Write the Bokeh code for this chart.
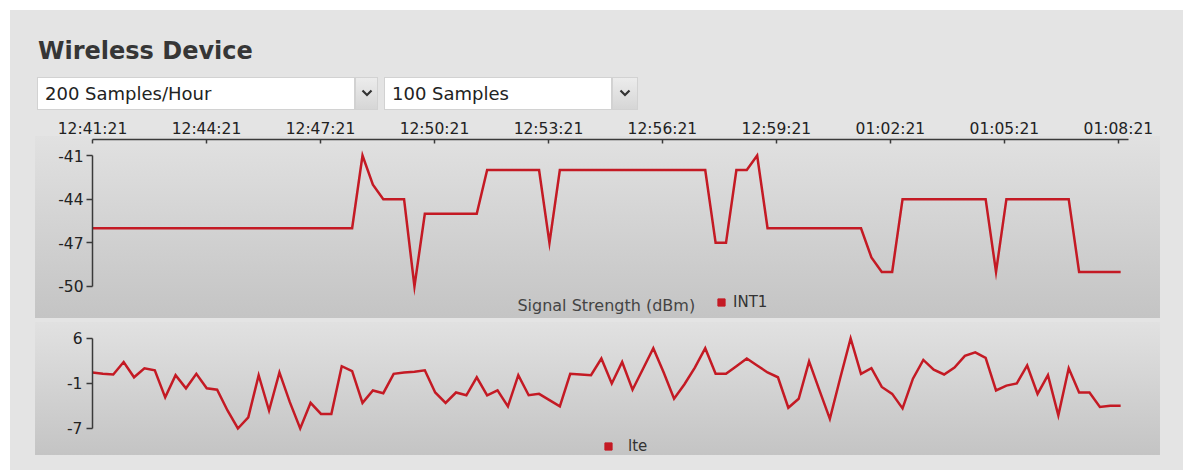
from bokeh.plotting import figure
from bokeh.models import FixedTicker, Range1d, Legend, LegendItem, Label, Div
from bokeh.layouts import column
from bokeh.embed import file_html
from bokeh.resources import INLINE

# ---------------- data ----------------
title_text = "Wireless Device"
rate_option = "200 Samples/Hour"
count_option = "100 Samples"

tick_seconds = [0, 180, 360, 540, 720, 900, 1080, 1260, 1440, 1620]
tick_labels = ["12:41:21", "12:44:21", "12:47:21", "12:50:21", "12:53:21",
               "12:56:21", "12:59:21", "01:02:21", "01:05:21", "01:08:21"]

sample_interval_s = 16.4

signal_dbm = [-46, -46, -46, -46, -46, -46, -46, -46, -46, -46,
              -46, -46, -46, -46, -46, -46, -46, -46, -46, -46,
              -46, -46, -46, -46, -46, -46, -41, -43, -44, -44,
              -44, -50, -45, -45, -45, -45, -45, -45, -42, -42,
              -42, -42, -42, -42, -47, -42, -42, -42, -42, -42,
              -42, -42, -42, -42, -42, -42, -42, -42, -42, -42,
              -47, -47, -42, -42, -41, -46, -46, -46, -46, -46,
              -46, -46, -46, -46, -46, -48, -49, -49, -44, -44,
              -44, -44, -44, -44, -44, -44, -44, -49, -44, -44,
              -44, -44, -44, -44, -44, -49, -49, -49, -49, -49]

lte = [1.1, 0.9, 0.8, 2.6, 0.4, 1.7, 1.4, -2.5, 0.7, -1.2,
       0.9, -1.2, -1.4, -4.4, -7.0, -5.4, 0.7, -4.4, 1.1, -3.2,
       -7.0, -3.3, -4.9, -4.9, 2.0, 1.3, -3.3, -1.5, -1.9, 0.9,
       1.1, 1.2, 1.4, -1.8, -3.3, -1.8, -2.2, 0.4, -2.2, -1.5,
       -3.8, 0.7, -2.2, -2.0, -2.9, -3.8, 0.9, 0.8, 0.7, 3.1,
       -0.5, 2.6, -1.4, 1.6, 4.6, 1.1, -2.7, -0.6, 1.8, 4.6,
       0.9, 0.9, 2.0, 3.1, 2.1, 1.1, 0.4, -4.0, -2.7, 2.7,
       -1.5, -5.6, 0.3, 6.0, 0.9, 1.7, -1.0, -2.0, -4.1, 0.2,
       2.9, 1.5, 0.8, 1.8, 3.5, 4.0, 3.2, -1.5, -0.8, -0.5,
       2.1, -2.0, 0.7, -5.1, 1.7, -1.8, -1.8, -3.9, -3.7, -3.7]

signal_ticks = [-50, -47, -44, -41]
lte_ticks = [-7, -0.5, 6]
lte_tick_labels = ["-7", "-1", "6"]

signal_axis_label = "Signal Strength (dBm)"
signal_series = "INT1"
lte_series = "lte"

sample_seconds = [i * sample_interval_s for i in range(len(signal_dbm))]

# ---------------- style ----------------
RED = "#c41a24"
FONT = "DejaVu Sans"
AXIS_COLOR = "#3a3a3a"
TEXT_COLOR = "#222222"
PANEL_BG = "linear-gradient(#e1e1e1, #c4c4c4)"
W = 1173


def style_common(p):
    p.grid.visible = False
    for ax in p.axis:
        ax.minor_tick_line_color = None
        ax.axis_line_color = AXIS_COLOR
        ax.axis_line_width = 1.5
        ax.major_tick_line_color = AXIS_COLOR
        ax.major_tick_line_width = 1.5
        ax.major_label_text_font = FONT
        ax.major_label_text_font_size = "15.5px"
        ax.major_label_text_color = TEXT_COLOR


def make_legend(label, renderer, loc, standoff):
    return Legend(items=[LegendItem(label=label, renderers=[renderer], index=0)],
                  location=loc, orientation="horizontal",
                  glyph_width=18, glyph_height=18, label_standoff=standoff,
                  padding=0, margin=0, spacing=0,
                  background_fill_alpha=0, border_line_alpha=0,
                  label_text_font=FONT, label_text_font_size="15px",
                  label_text_color="#333333")


# ---------------- top chart ----------------
p1 = figure(width=W, height=208,
            x_range=Range1d(0, 1636), y_range=Range1d(-52.2, -39.9),
            x_axis_location="above",
            toolbar_location=None, output_backend="svg",
            min_border_left=82, min_border_right=55,
            min_border_top=27, min_border_bottom=2,
            background_fill_color=None, border_fill_color=None,
            outline_line_color=None, margin=0)
p1.styles = {"background": PANEL_BG + " 25px 24px / 1125px 182px no-repeat"}

p1.line(sample_seconds, signal_dbm, line_color=RED, line_width=2.5,
        line_join="miter")
style_common(p1)

xa = p1.xaxis[0]
xa.ticker = FixedTicker(ticks=tick_seconds)
xa.major_label_overrides = dict(zip(tick_seconds, tick_labels))
xa.major_tick_in = 4
xa.major_tick_out = 0
xa.major_label_standoff = 2

ya = p1.yaxis[0]
ya.ticker = FixedTicker(ticks=signal_ticks)
ya.major_label_overrides = {t: str(t) for t in signal_ticks}
ya.bounds = (min(signal_ticks), max(signal_ticks))
ya.major_tick_in = 0
ya.major_tick_out = 6
ya.major_label_standoff = 3

key1 = p1.scatter(sample_seconds, signal_dbm, marker="square", size=7,
                  fill_color=RED, line_color=RED)
key1.visible = False
p1.add_layout(make_legend(signal_series, key1, (620, 7), 3))
p1.add_layout(Label(x=671, y=-51.3, text=signal_axis_label,
                    text_font=FONT, text_font_size="16px",
                    text_color="#444444", text_baseline="alphabetic"))

# ---------------- bottom chart ----------------
p2 = figure(width=W, height=150,
            x_range=Range1d(0, 1636), y_range=Range1d(-10.9, 8.31),
            x_axis_location=None,
            toolbar_location=None, output_backend="svg",
            min_border_left=82, min_border_right=55,
            min_border_top=2, min_border_bottom=15,
            background_fill_color=None, border_fill_color=None,
            outline_line_color=None, margin=0)
p2.styles = {"background": PANEL_BG + " 25px 2px / 1125px 133px no-repeat"}

p2.line(sample_seconds, lte, line_color=RED, line_width=2.5,
        line_join="miter")
style_common(p2)

ya2 = p2.yaxis[0]
ya2.ticker = FixedTicker(ticks=lte_ticks)
ya2.major_label_overrides = dict(zip(lte_ticks, lte_tick_labels))
ya2.bounds = (min(lte_ticks), max(lte_ticks))
ya2.major_tick_in = 0
ya2.major_tick_out = 6
ya2.major_label_standoff = 4

key2 = p2.scatter(sample_seconds, lte, marker="square", size=7,
                  fill_color=RED, line_color=RED)
key2.visible = False
p2.add_layout(make_legend(lte_series, key2, (507, 0), 11))

# ---------------- header ----------------
caret = ('<svg width="12" height="8" style="display:block;margin:11px auto 0 auto">'
         '<polyline points="1.5,1.5 6,6 10.5,1.5" fill="none" stroke="#333" '
         'stroke-width="2.2"/></svg>')
box_text = ("position:absolute;top:67px;height:33px;background:#ffffff;"
            "box-sizing:border-box;border:1px solid #d2d2d2;"
            "font-family:'DejaVu Sans';font-size:18px;line-height:31px;"
            "color:#222;padding-left:7px;white-space:nowrap;")
btn = ("position:absolute;top:67px;height:33px;box-sizing:border-box;"
       "border:1px solid #d2d2d2;background:linear-gradient(#ececec,#d6d6d6);")
header_html = f"""
<div style="position:relative;width:{W}px;height:102px;">
  <div style="position:absolute;left:28px;top:29px;font-family:'DejaVu Sans';
       font-weight:bold;font-size:24px;line-height:24px;color:#363636;
       white-space:nowrap;">{title_text}</div>
  <div style="{box_text}left:27px;width:318px;">{rate_option}</div>
  <div style="{btn}left:345px;width:23px;">{caret}</div>
  <div style="{box_text}left:374px;width:228px;">{count_option}</div>
  <div style="{btn}left:602px;width:26px;">{caret}</div>
</div>
"""
header = Div(text=header_html, width=W, height=102, margin=0)

layout = column(header, p1, p2, spacing=0, width=W, height=460,
                sizing_mode="fixed", margin=(10, 10, 0, 10),
                styles={"background-color": "#e4e4e4"})

open("out.html", "w").write(file_html(layout, INLINE))
